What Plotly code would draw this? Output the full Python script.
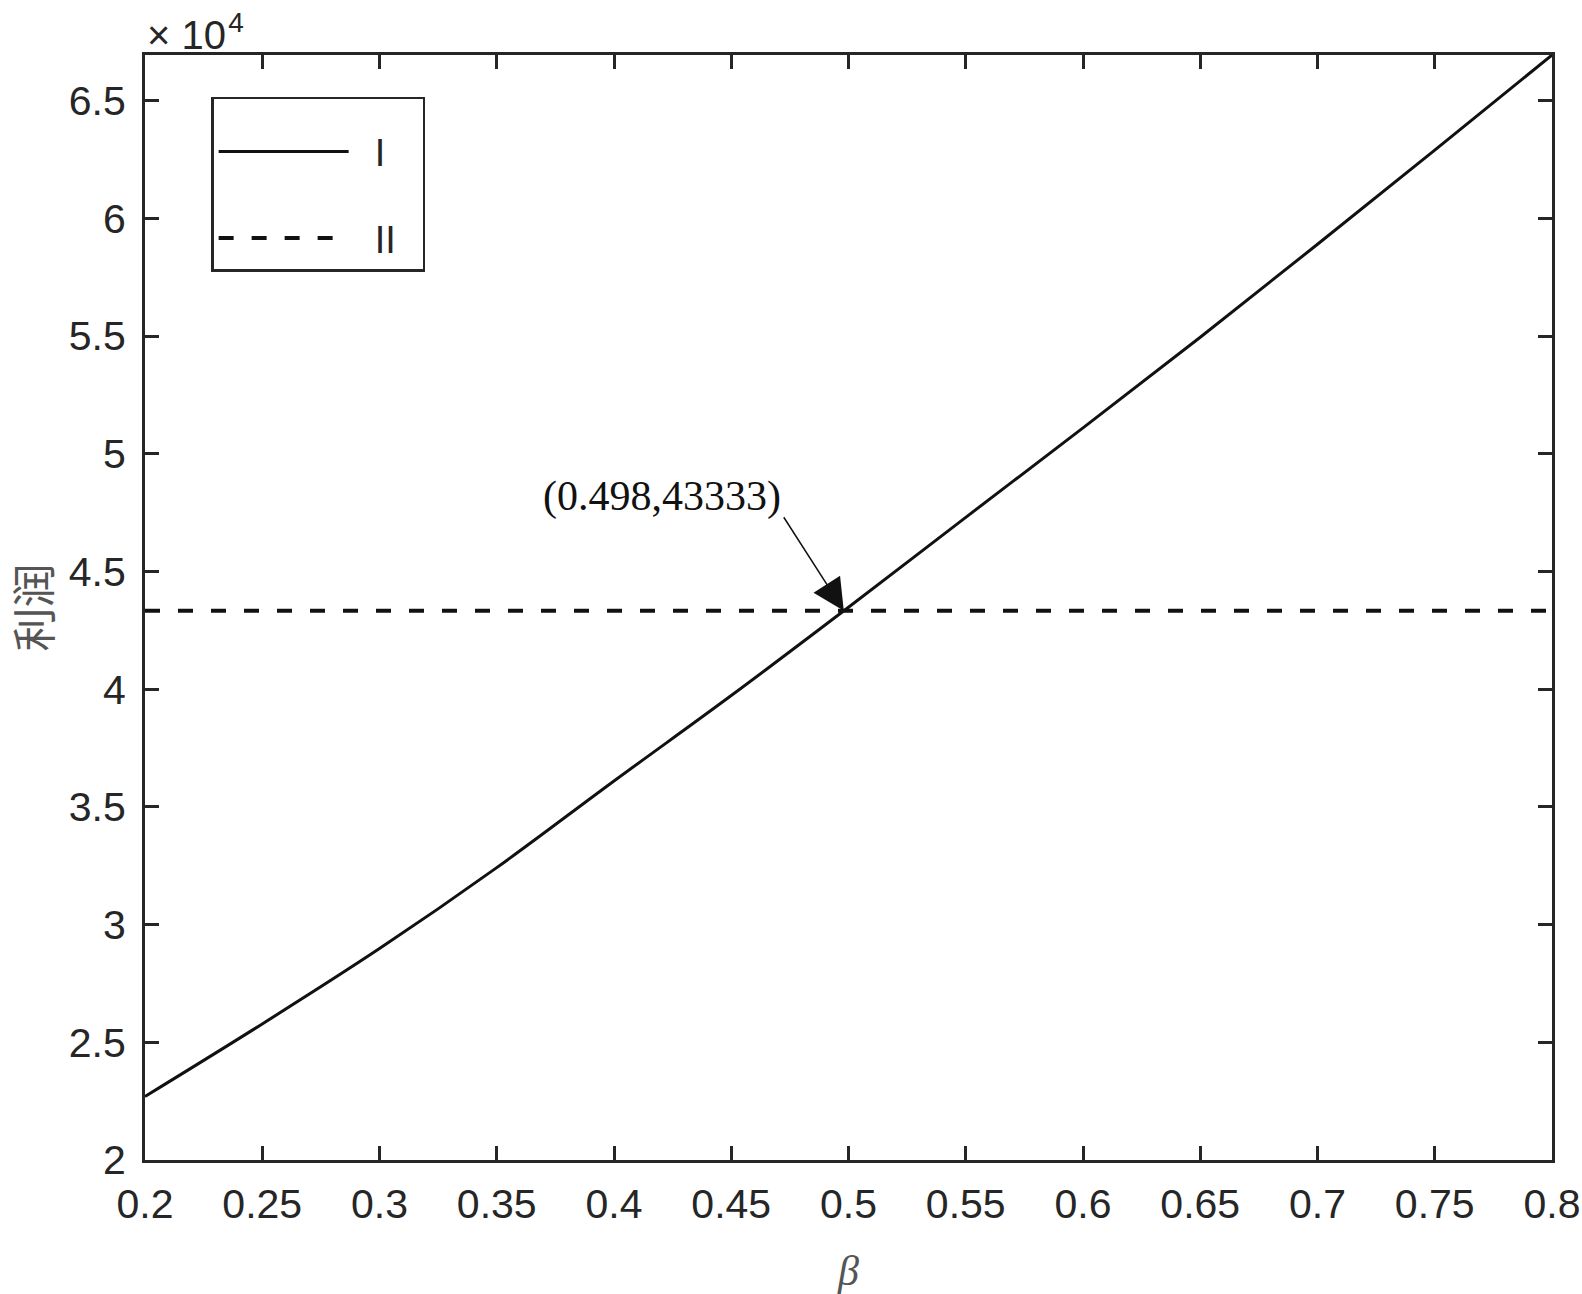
import plotly.graph_objects as go

beta = [0.20, 0.25, 0.30, 0.35, 0.40, 0.45, 0.50, 0.55, 0.60, 0.65, 0.70, 0.75, 0.80]
profit_I = [22700, 25780, 28980, 32420, 36100, 39730, 43480, 47300, 51100, 54950, 58900, 62900, 66940]
beta_II = [0.20, 0.80]
profit_II = [43333, 43333]
cross_point = (0.498, 43333)
cross_label = "(0.498,43333)"
series_names = ["I", "II"]

x_ticks = [0.2, 0.25, 0.3, 0.35, 0.4, 0.45, 0.5, 0.55, 0.6, 0.65, 0.7, 0.75, 0.8]
x_ticktext = ["0.2", "0.25", "0.3", "0.35", "0.4", "0.45", "0.5", "0.55", "0.6", "0.65", "0.7", "0.75", "0.8"]
y_ticks = [20000, 25000, 30000, 35000, 40000, 45000, 50000, 55000, 60000, 65000]
y_ticktext = ["2", "2.5", "3", "3.5", "4", "4.5", "5", "5.5", "6", "6.5"]

INK = "#262626"
SANS = "Liberation Sans, Arial, sans-serif"
NB = "\u00a0"

fig = go.Figure()
fig.add_trace(go.Scatter(x=beta, y=profit_I, mode="lines", name=NB * 2 + series_names[0],
                         line=dict(color="#111111", width=3, shape="spline"),
                         legendgroup="a"))
fig.add_trace(go.Scatter(x=beta_II, y=profit_II, mode="lines",
                         name=NB * 2 + series_names[1] + NB * 2,
                         line=dict(color="#111111", width=4, dash="15px,18px"),
                         legendgroup="b"))

# arrow to the crossing point
fig.add_annotation(x=cross_point[0], y=cross_point[1], xref="x", yref="y",
                   text="", showarrow=True, arrowhead=2, arrowsize=4.2, arrowwidth=1.5,
                   arrowcolor="#111111", ax=-61, ay=-95, standoff=0)
fig.add_annotation(x=0.4205, y=48165, xref="x", yref="y", text=cross_label,
                   showarrow=False, font=dict(family="Liberation Serif, Times New Roman, serif",
                                              size=42, color="#111111"))
# exponent label
fig.add_annotation(x=0.0, y=1.0, xref="paper", yref="paper", xanchor="left", yanchor="bottom",
                   text="× 10<sup>\u200a4</sup>", showarrow=False, yshift=-4,
                   font=dict(family=SANS, size=40, color=INK))

axis_common = dict(showline=True, linecolor=INK, linewidth=3, mirror="ticks",
                   ticks="inside", ticklen=14, tickwidth=2.5, tickcolor=INK,
                   showgrid=False, zeroline=False, ticklabeloverflow="allow",
                   automargin=False,
                   tickfont=dict(family=SANS, size=41, color=INK))

fig.update_xaxes(range=[0.2, 0.8], tickvals=x_ticks, ticktext=x_ticktext,
                 ticklabelstandoff=6,
                 title=dict(text="<i>β</i>", font=dict(family="Liberation Serif, serif", size=42, color="#555555"),
                            standoff=36),
                 **axis_common)
fig.update_yaxes(range=[20000, 66940], tickvals=y_ticks, ticktext=y_ticktext,
                 ticklabelstandoff=8,
                 title=dict(text="利润", font=dict(family="Noto Sans CJK SC, sans-serif", size=44, color="#555555"),
                            standoff=54),
                 **axis_common)

fig.update_layout(
    width=1582, height=1294,
    margin=dict(l=145, r=30, t=55, b=134, autoexpand=False),
    plot_bgcolor="white", paper_bgcolor="white",
    legend=dict(x=0.047, y=0.962, xanchor="left", yanchor="top",
                bordercolor=INK, borderwidth=2.5, bgcolor="white",
                title=dict(text=NB, font=dict(size=16)),
                font=dict(family=SANS, size=38, color=INK),
                itemwidth=130, tracegroupgap=34),
)

post = ("document.documentElement.style.overflow='hidden';"
        "document.body.style.margin='0';"
        "document.body.style.height='1294px';"
        "document.body.style.overflow='hidden';")
fig.write_html("out.html", post_script=post, config={"displayModeBar": False})
